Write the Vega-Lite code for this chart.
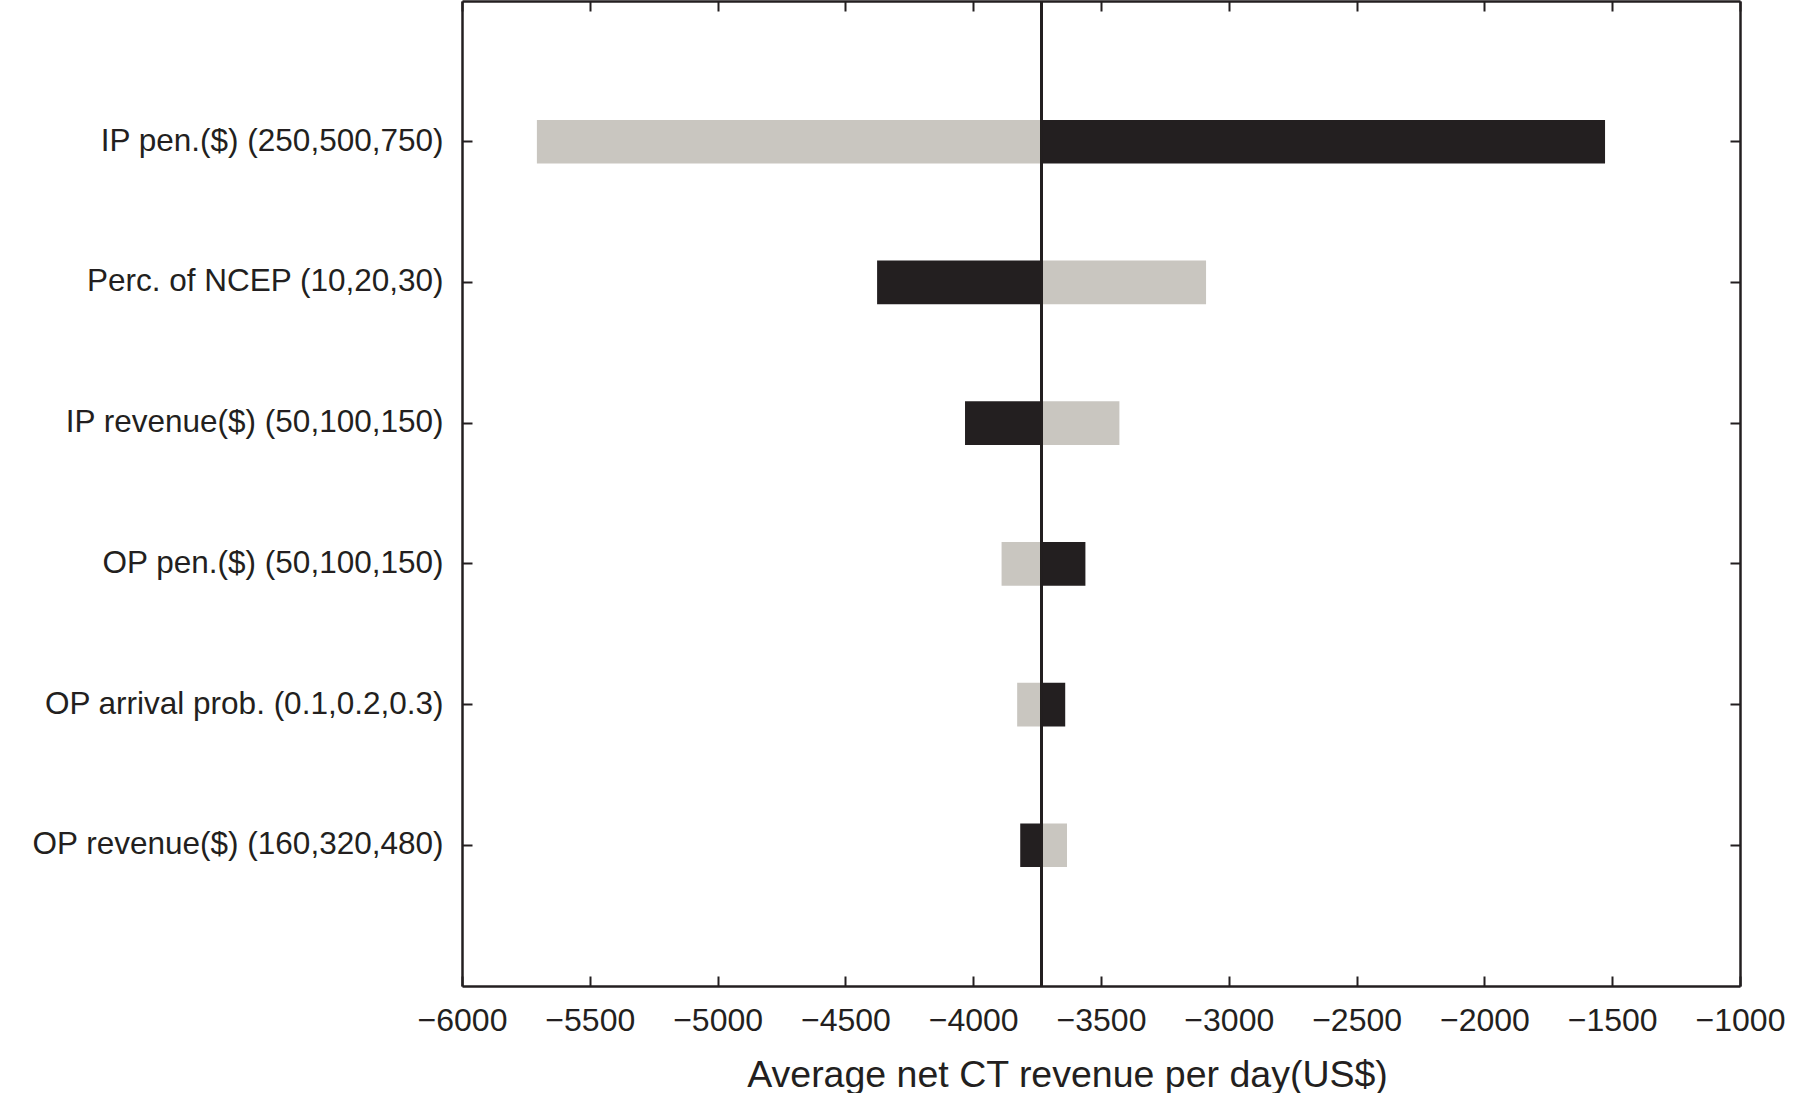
{
  "$schema": "https://vega.github.io/schema/vega-lite/v6.json",
  "width": 1278,
  "height": 985,
  "autosize": "none",
  "padding": {"left": 462, "top": 1, "right": 53, "bottom": 107},
  "background": "white",
  "config": {
    "view": {"stroke": null},
    "font": "Liberation Sans",
    "axis": {
      "labelFont": "Liberation Sans",
      "titleFont": "Liberation Sans",
      "labelColor": "#231f20",
      "titleColor": "#231f20",
      "domainColor": "#231f20",
      "tickColor": "#231f20",
      "domainWidth": 2.5,
      "tickWidth": 2,
      "grid": false
    }
  },
  "data": {
    "values": [
      {"param": "IP pen.($) (250,500,750)", "level": "low", "value": -1528},
      {"param": "IP pen.($) (250,500,750)", "level": "high", "value": -5707},
      {"param": "Perc. of NCEP (10,20,30)", "level": "low", "value": -4376},
      {"param": "Perc. of NCEP (10,20,30)", "level": "high", "value": -3089},
      {"param": "IP revenue($) (50,100,150)", "level": "low", "value": -4032},
      {"param": "IP revenue($) (50,100,150)", "level": "high", "value": -3428},
      {"param": "OP pen.($) (50,100,150)", "level": "low", "value": -3561},
      {"param": "OP pen.($) (50,100,150)", "level": "high", "value": -3889},
      {"param": "OP arrival prob. (0.1,0.2,0.3)", "level": "low", "value": -3640},
      {"param": "OP arrival prob. (0.1,0.2,0.3)", "level": "high", "value": -3828},
      {"param": "OP revenue($) (160,320,480)", "level": "low", "value": -3816},
      {"param": "OP revenue($) (160,320,480)", "level": "high", "value": -3633}
    ]
  },
  "layer": [
    {
      "mark": {"type": "bar", "cornerRadius": 0},
      "encoding": {
        "y": {
          "field": "param",
          "type": "nominal",
          "sort": null,
          "scale": {"paddingInner": 0.69, "paddingOuter": 0.845},
          "axis": {
            "orient": "left",
            "title": null,
            "labelFontSize": 31.5,
            "labelPadding": 29,
            "tickSize": -10,
            "labelLimit": 600
          }
        },
        "x": {
          "field": "value",
          "type": "quantitative",
          "scale": {"domain": [-6000, -1000], "nice": false, "zero": false},
          "axis": {
            "orient": "bottom",
            "values": [-6000, -5500, -5000, -4500, -4000, -3500, -3000, -2500, -2000, -1500, -1000],
            "format": "d",
            "labelFontSize": 32,
            "labelPadding": 29,
            "tickSize": -10,
            "labelFlush": false,
            "title": "Average net CT revenue per day(US$)",
            "titleFontSize": 37.5,
            "titleFontWeight": "normal",
            "titleX": 605,
            "titleY": 100,
            "titleBaseline": "alphabetic"
          }
        },
        "x2": {"datum": -3732},
        "color": {
          "field": "level",
          "type": "nominal",
          "scale": {"domain": ["low", "high"], "range": ["#231f20", "#c9c6c0"]},
          "legend": null
        }
      }
    },
    {
      "mark": {"type": "bar", "opacity": 0},
      "encoding": {
        "y": {
          "field": "param",
          "type": "nominal",
          "sort": null,
          "axis": {"orient": "right", "title": null, "labels": false, "tickSize": -10}
        },
        "x": {
          "field": "value",
          "type": "quantitative",
          "axis": {
            "orient": "top",
            "title": null,
            "labels": false,
            "tickSize": -10,
            "values": [-6000, -5500, -5000, -4500, -4000, -3500, -3000, -2500, -2000, -1500, -1000]
          }
        }
      }
    },
    {
      "mark": {"type": "rule", "color": "#231f20", "strokeWidth": 2},
      "encoding": {"x": {"datum": -3732, "axis": null}}
    }
  ],
  "resolve": {"axis": {"x": "independent", "y": "independent"}}
}
